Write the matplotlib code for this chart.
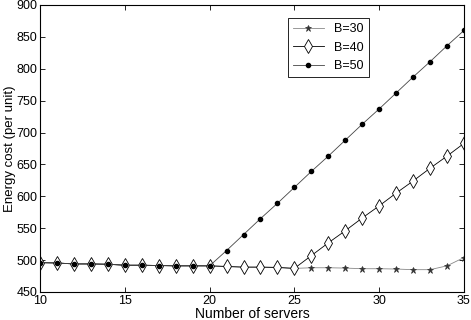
import numpy as np
import matplotlib.pyplot as plt

plt.rcParams['font.family'] = ['Liberation Sans', 'DejaVu Sans']

servers = list(range(10, 36))
# flat part shared by all three curves
b30 = [496, 495.5, 494, 494, 493.5, 492, 492, 491.5, 491, 491, 491,
       490, 489, 489, 488.5, 487, 488, 488, 487.5, 486.5, 486.5, 486, 485, 485, 491, 504]
b40 = [496, 495.5, 494, 494, 493.5, 492, 492, 491.5, 491, 491, 491,
       490, 489, 489, 488.5, 487, 507, 527, 546, 566, 585, 605, 624, 644, 663, 683]
b50 = [496, 495.5, 494, 494, 493.5, 492, 492, 491.5, 491, 491, 491,
       515, 540, 565, 589, 614, 639, 663, 688, 713, 737, 762, 787, 811, 836, 860]

fig = plt.figure(figsize=(4.71, 3.2), dpi=100)
ax = fig.add_axes([0.085, 0.0875, 0.9, 0.897])

ax.plot(servers, b30, color='#888888', lw=0.6, marker='*', ms=5,
        mfc='#333333', mec='#333333', mew=0.5, label='B=30')
ax.plot(servers, b40, color='black', lw=0.6, marker='d', ms=7.5,
        mfc='white', mec='black', mew=0.6, label='B=40')
ax.plot(servers, b50, color='#444444', lw=0.6, marker='o', ms=3,
        mfc='black', mec='black', label='B=50')

ax.set_xlim(10, 35)
ax.set_ylim(450, 900)
ax.set_xticks([10, 15, 20, 25, 30, 35])
ax.set_yticks(np.arange(450, 901, 50))
ax.tick_params(direction='in', top=True, right=True, labelsize=9, length=3.5,
               width=0.6, pad=2)
for s in ax.spines.values():
    s.set_linewidth(0.8)
ax.set_xlabel('Number of servers', fontsize=10, labelpad=0)
ax.set_ylabel('Energy cost (per unit)', fontsize=9.5, labelpad=0)

leg = ax.legend(loc='upper right', bbox_to_anchor=(0.79, 0.975), fontsize=9,
                fancybox=False, edgecolor='black', framealpha=1,
                handlelength=2.5, borderpad=0.4, labelspacing=0.5)
leg.get_frame().set_linewidth(0.6)

fig.savefig('out.png', dpi=100)
